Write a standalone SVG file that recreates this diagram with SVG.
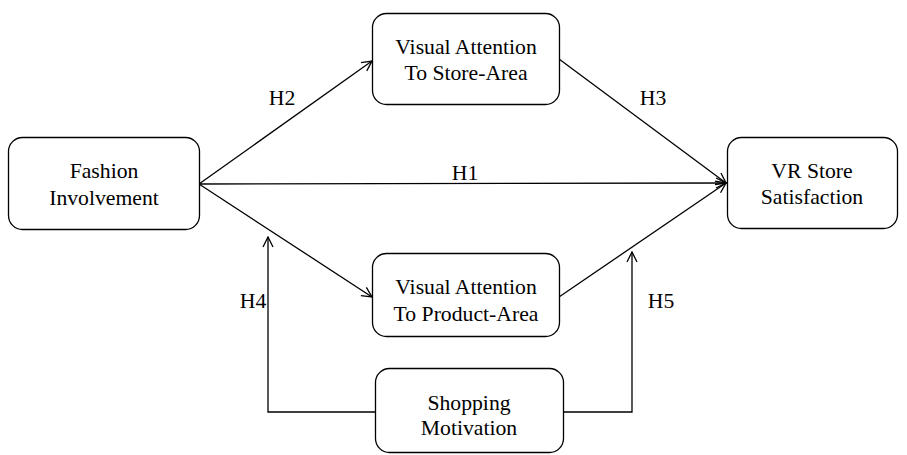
<svg xmlns="http://www.w3.org/2000/svg" width="907" height="455" viewBox="0 0 907 455">
<defs>
<style>
.box{fill:#fff;stroke:#000;stroke-width:1.3}
.t{font-family:"Liberation Serif","Times New Roman",serif;font-size:21.7px;fill:#000;text-anchor:middle}
.c{fill:none;stroke:#000;stroke-width:1.3}
</style>
<marker id="ah" viewBox="0 0 12 12" refX="11" refY="6" markerWidth="12" markerHeight="12" markerUnits="userSpaceOnUse" orient="auto">
<path d="M1,1 L11,6 L1,11" fill="none" stroke="#000" stroke-width="1.3"/>
</marker>
</defs>
<rect width="907" height="455" fill="#fff"/>
<g id="connectors">
<line class="c" x1="199" y1="184" x2="372" y2="61" marker-end="url(#ah)"/>
<line class="c" x1="199" y1="184" x2="726" y2="183" marker-end="url(#ah)"/>
<line class="c" x1="199" y1="184" x2="372" y2="297" marker-end="url(#ah)"/>
<line class="c" x1="559" y1="59" x2="726" y2="183" marker-end="url(#ah)"/>
<line class="c" x1="559" y1="297" x2="726" y2="183" marker-end="url(#ah)"/>
<polyline class="c" points="375,412 268,412 268,237" marker-end="url(#ah)"/>
<polyline class="c" points="563,412 632,412 632,252" marker-end="url(#ah)"/>
<text class="t" x="282" y="105">H2</text>
<text class="t" x="465" y="180">H1</text>
<text class="t" x="653" y="105">H3</text>
<text class="t" x="253" y="308">H4</text>
<text class="t" x="661" y="308">H5</text>
</g>
<g id="fashion">
<rect class="box" x="8.5" y="137.5" width="191" height="92" rx="14"/>
<text class="t" x="104" y="178">Fashion</text>
<text class="t" x="104" y="205">Involvement</text>
</g>
<g id="store">
<rect class="box" x="372.5" y="13.5" width="187" height="91" rx="14"/>
<text class="t" x="466" y="54">Visual Attention</text>
<text class="t" x="466" y="80">To Store-Area</text>
</g>
<g id="product">
<rect class="box" x="372.5" y="253.5" width="187" height="83" rx="14"/>
<text class="t" x="466" y="294">Visual Attention</text>
<text class="t" x="466" y="321">To Product-Area</text>
</g>
<g id="vr">
<rect class="box" x="727.5" y="137.5" width="170" height="91" rx="14"/>
<text class="t" x="812" y="178">VR Store</text>
<text class="t" x="812" y="204">Satisfaction</text>
</g>
<g id="shopping">
<rect class="box" x="375.5" y="368.5" width="188" height="84" rx="14"/>
<text class="t" x="469" y="410">Shopping</text>
<text class="t" x="469" y="435">Motivation</text>
</g>
</svg>
